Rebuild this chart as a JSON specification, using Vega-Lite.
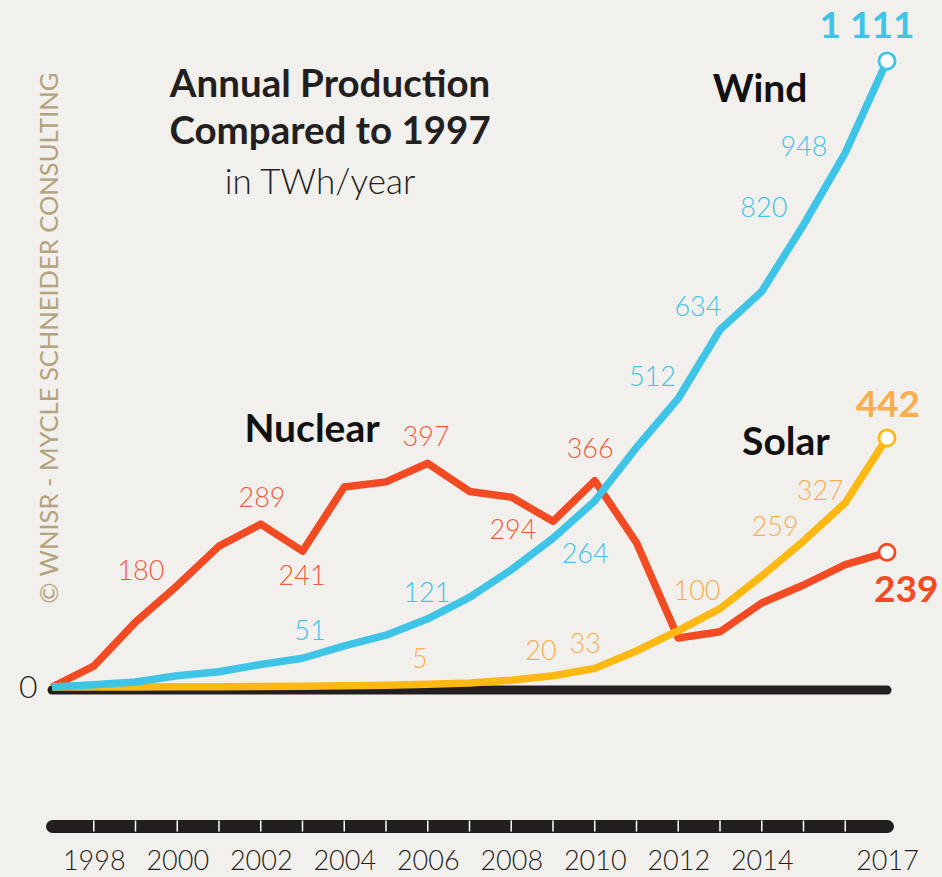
{
  "$schema": "https://vega.github.io/schema/vega-lite/v6.json",
  "width": 835,
  "height": 826,
  "autosize": {"type": "none"},
  "padding": {"left": 52, "top": 0, "right": 55, "bottom": 51},
  "background": "#F2F0EC",
  "config": {"view": {"stroke": null}, "font": "Lato", "text": {"font": "Lato"}},
  "datasets": {
    "lines": [
      {"series": "Nuclear", "year": 1997, "value": 0},
      {"series": "Nuclear", "year": 1998, "value": 37},
      {"series": "Nuclear", "year": 1999, "value": 115},
      {"series": "Nuclear", "year": 2000, "value": 180},
      {"series": "Nuclear", "year": 2001, "value": 250},
      {"series": "Nuclear", "year": 2002, "value": 289},
      {"series": "Nuclear", "year": 2003, "value": 241},
      {"series": "Nuclear", "year": 2004, "value": 355},
      {"series": "Nuclear", "year": 2005, "value": 364},
      {"series": "Nuclear", "year": 2006, "value": 397},
      {"series": "Nuclear", "year": 2007, "value": 347},
      {"series": "Nuclear", "year": 2008, "value": 337},
      {"series": "Nuclear", "year": 2009, "value": 294},
      {"series": "Nuclear", "year": 2010, "value": 366},
      {"series": "Nuclear", "year": 2011, "value": 256},
      {"series": "Nuclear", "year": 2012, "value": 87},
      {"series": "Nuclear", "year": 2013, "value": 98},
      {"series": "Nuclear", "year": 2014, "value": 149},
      {"series": "Nuclear", "year": 2015, "value": 181},
      {"series": "Nuclear", "year": 2016, "value": 217},
      {"series": "Nuclear", "year": 2017, "value": 239},
      {"series": "Wind", "year": 1997, "value": 0},
      {"series": "Wind", "year": 1998, "value": 4},
      {"series": "Wind", "year": 1999, "value": 9},
      {"series": "Wind", "year": 2000, "value": 20},
      {"series": "Wind", "year": 2001, "value": 27},
      {"series": "Wind", "year": 2002, "value": 40},
      {"series": "Wind", "year": 2003, "value": 51},
      {"series": "Wind", "year": 2004, "value": 73},
      {"series": "Wind", "year": 2005, "value": 92},
      {"series": "Wind", "year": 2006, "value": 121},
      {"series": "Wind", "year": 2007, "value": 159},
      {"series": "Wind", "year": 2008, "value": 208},
      {"series": "Wind", "year": 2009, "value": 264},
      {"series": "Wind", "year": 2010, "value": 330},
      {"series": "Wind", "year": 2011, "value": 425},
      {"series": "Wind", "year": 2012, "value": 512},
      {"series": "Wind", "year": 2013, "value": 634},
      {"series": "Wind", "year": 2014, "value": 702},
      {"series": "Wind", "year": 2015, "value": 820},
      {"series": "Wind", "year": 2016, "value": 948},
      {"series": "Wind", "year": 2017, "value": 1111},
      {"series": "Solar", "year": 1997, "value": 0},
      {"series": "Solar", "year": 1998, "value": 0.1},
      {"series": "Solar", "year": 1999, "value": 0.2},
      {"series": "Solar", "year": 2000, "value": 0.4},
      {"series": "Solar", "year": 2001, "value": 0.6},
      {"series": "Solar", "year": 2002, "value": 1},
      {"series": "Solar", "year": 2003, "value": 1.4},
      {"series": "Solar", "year": 2004, "value": 2.2},
      {"series": "Solar", "year": 2005, "value": 3.3},
      {"series": "Solar", "year": 2006, "value": 5},
      {"series": "Solar", "year": 2007, "value": 7},
      {"series": "Solar", "year": 2008, "value": 12},
      {"series": "Solar", "year": 2009, "value": 20},
      {"series": "Solar", "year": 2010, "value": 33},
      {"series": "Solar", "year": 2011, "value": 64},
      {"series": "Solar", "year": 2012, "value": 100},
      {"series": "Solar", "year": 2013, "value": 139},
      {"series": "Solar", "year": 2014, "value": 197},
      {"series": "Solar", "year": 2015, "value": 259},
      {"series": "Solar", "year": 2016, "value": 327},
      {"series": "Solar", "year": 2017, "value": 442}
    ],
    "labels": [
      {"series": "Nuclear", "role": "value", "text": "180", "year": 1999.13, "value": 204},
      {"series": "Nuclear", "role": "value", "text": "289", "year": 2002.03, "value": 334},
      {"series": "Nuclear", "role": "value", "text": "241", "year": 2002.99, "value": 195},
      {"series": "Nuclear", "role": "value", "text": "397", "year": 2005.96, "value": 442},
      {"series": "Nuclear", "role": "value", "text": "294", "year": 2008.04, "value": 277},
      {"series": "Nuclear", "role": "value", "text": "366", "year": 2009.89, "value": 421},
      {"series": "Nuclear", "role": "end", "text": "239", "year": 2017.46, "value": 170},
      {"series": "Wind", "role": "value", "text": "51", "year": 2003.18, "value": 98},
      {"series": "Wind", "role": "value", "text": "121", "year": 2005.98, "value": 165},
      {"series": "Wind", "role": "value", "text": "264", "year": 2009.77, "value": 234},
      {"series": "Wind", "role": "value", "text": "512", "year": 2011.38, "value": 548},
      {"series": "Wind", "role": "value", "text": "634", "year": 2012.47, "value": 673},
      {"series": "Wind", "role": "value", "text": "820", "year": 2014.05, "value": 848},
      {"series": "Wind", "role": "value", "text": "948", "year": 2015.01, "value": 957},
      {"series": "Wind", "role": "end", "text": "1 111", "year": 2016.52, "value": 1172},
      {"series": "Solar", "role": "value", "text": "5", "year": 2005.81, "value": 48},
      {"series": "Solar", "role": "value", "text": "20", "year": 2008.71, "value": 62},
      {"series": "Solar", "role": "value", "text": "33", "year": 2009.77, "value": 75},
      {"series": "Solar", "role": "value", "text": "100", "year": 2012.45, "value": 169},
      {"series": "Solar", "role": "value", "text": "259", "year": 2014.32, "value": 282},
      {"series": "Solar", "role": "value", "text": "327", "year": 2015.4, "value": 346},
      {"series": "Solar", "role": "end", "text": "442", "year": 2017.02, "value": 498},
      {"series": "Wind", "role": "name", "text": "Wind", "year": 2013.96, "value": 1059},
      {"series": "Nuclear", "role": "name", "text": "Nuclear", "year": 2003.23, "value": 456},
      {"series": "Solar", "role": "name", "text": "Solar", "year": 2014.58, "value": 433}
    ],
    "notes": [
      {"role": "title", "text": "Annual Production", "year": 2003.66, "value": 1068},
      {"role": "title", "text": "Compared to 1997", "year": 2003.66, "value": 985},
      {"role": "subtitle", "text": "in TWh/year", "year": 2003.42, "value": 894},
      {"role": "watermark", "text": "© WNISR - MYCLE SCHNEIDER CONSULTING", "year": 1996.95, "value": 619},
      {"role": "zero", "text": "0", "year": 1996.43, "value": -2}
    ]
  },
  "encoding": {
    "x": {
      "field": "year",
      "type": "quantitative",
      "scale": {"domain": [1997, 2017], "nice": false, "zero": false},
      "axis": {
        "values": [1998, 2000, 2002, 2004, 2006, 2008, 2010, 2012, 2014, 2017],
        "format": "d",
        "title": null,
        "grid": false,
        "domain": true,
        "domainWidth": 13,
        "domainColor": "#231F20",
        "domainCap": "round",
        "ticks": false,
        "tickSize": 0,
        "labelPadding": 22,
        "labelFont": "Lato",
        "labelFontSize": 27,
        "labelFontWeight": 300,
        "labelColor": "#231F20",
        "labelFlush": false,
        "labelOverlap": false
      }
    },
    "y": {
      "field": "value",
      "type": "quantitative",
      "scale": {"domain": [-246.7, 1219.2], "nice": false, "zero": false},
      "axis": null
    }
  },
  "layer": [
    {
      "data": {"values": [{"year": 1997, "year2": 2017, "value": 0}]},
      "mark": {"type": "rule", "strokeWidth": 9, "strokeCap": "round", "color": "#231F20", "yOffset": 3},
      "encoding": {"x2": {"field": "year2"}}
    },
    {
      "data": {"name": "lines"},
      "transform": [{"filter": "datum.series == 'Wind' && datum.year >= 1998 && datum.year <= 2016"}],
      "mark": {"type": "rule", "strokeWidth": 1.5, "color": "#FFFFFF"},
      "encoding": {"y": {"datum": -237}, "y2": {"datum": -256.5}}
    },
    {
      "data": {"name": "lines"},
      "transform": [{"filter": "datum.series == 'Nuclear'"}],
      "mark": {"type": "line", "strokeWidth": 7.5, "color": "#F24B23", "strokeJoin": "round"},
      "encoding": {"order": {"field": "year"}}
    },
    {
      "data": {"name": "lines"},
      "transform": [{"filter": "datum.series == 'Solar'"}],
      "mark": {"type": "line", "strokeWidth": 7.5, "color": "#FDB913", "strokeJoin": "round"},
      "encoding": {"order": {"field": "year"}}
    },
    {
      "data": {"name": "lines"},
      "transform": [{"filter": "datum.series == 'Wind'"}],
      "mark": {"type": "line", "strokeWidth": 7.5, "color": "#3EC4E6", "strokeJoin": "round"},
      "encoding": {"order": {"field": "year"}}
    },
    {
      "data": {"name": "lines"},
      "transform": [{"filter": "datum.year == 2017"}],
      "mark": {"type": "point", "filled": true, "fill": "#FFFFFF", "size": 260, "strokeWidth": 2.8, "opacity": 1},
      "encoding": {
        "stroke": {
          "field": "series",
          "type": "nominal",
          "scale": {"domain": ["Nuclear", "Solar", "Wind"], "range": ["#F24B23", "#FDB913", "#3EC4E6"]},
          "legend": null
        }
      }
    },
    {
      "data": {"name": "labels"},
      "transform": [{"filter": "datum.role == 'value'"}],
      "mark": {"type": "text", "font": "Lato", "fontSize": 27, "fontWeight": 300},
      "encoding": {
        "text": {"field": "text"},
        "color": {
          "condition": [
            {"test": "datum.series == 'Wind'", "value": "#3EC4E6"},
            {"test": "datum.series == 'Solar'", "value": "#F8AE4F"}
          ],
          "value": "#F15A3C"
        }
      }
    },
    {
      "data": {"name": "labels"},
      "transform": [{"filter": "datum.role == 'end'"}],
      "mark": {"type": "text", "font": "Lato", "fontSize": 37, "fontWeight": "bold"},
      "encoding": {
        "text": {"field": "text"},
        "color": {
          "condition": [
            {"test": "datum.series == 'Wind'", "value": "#3EC4E6"},
            {"test": "datum.series == 'Solar'", "value": "#F8AE4F"}
          ],
          "value": "#F04B23"
        }
      }
    },
    {
      "data": {"name": "labels"},
      "transform": [{"filter": "datum.role == 'name'"}],
      "mark": {"type": "text", "font": "Lato", "fontSize": 39, "fontWeight": "bold", "color": "#111111"},
      "encoding": {"text": {"field": "text"}}
    },
    {
      "data": {"name": "notes"},
      "transform": [{"filter": "datum.role == 'title'"}],
      "mark": {"type": "text", "font": "Lato", "fontSize": 38.5, "fontWeight": "bold", "color": "#231F20"},
      "encoding": {"text": {"field": "text"}}
    },
    {
      "data": {"name": "notes"},
      "transform": [{"filter": "datum.role == 'subtitle'"}],
      "mark": {"type": "text", "font": "Lato", "fontSize": 35, "fontWeight": 300, "color": "#231F20"},
      "encoding": {"text": {"field": "text"}}
    },
    {
      "data": {"name": "notes"},
      "transform": [{"filter": "datum.role == 'watermark'"}],
      "mark": {"type": "text", "font": "Lato", "fontSize": 25.5, "angle": 270, "color": "#B4A27C"},
      "encoding": {"text": {"field": "text"}}
    },
    {
      "data": {"name": "notes"},
      "transform": [{"filter": "datum.role == 'zero'"}],
      "mark": {"type": "text", "font": "Lato", "fontSize": 32, "fontWeight": 300, "color": "#231F20"},
      "encoding": {"text": {"field": "text"}}
    }
  ]
}
